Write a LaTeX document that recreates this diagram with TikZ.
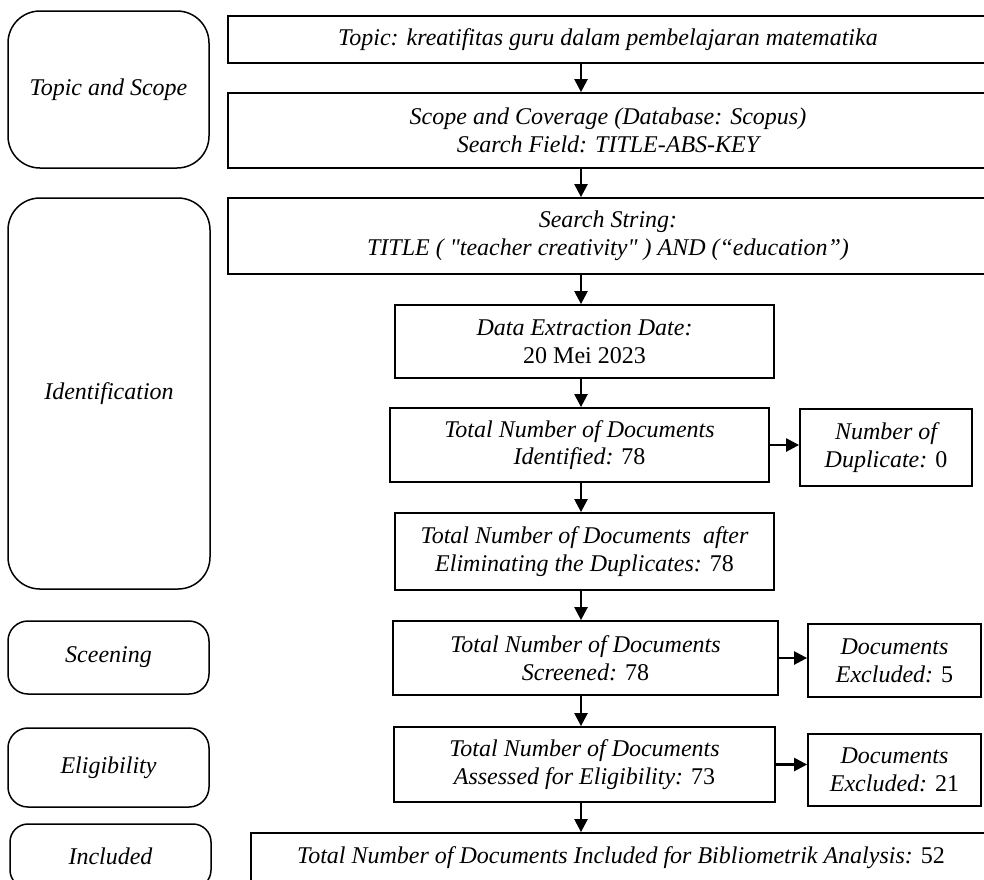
\documentclass[tikz,border=0pt]{standalone}
\usepackage{fontspec}
\setmainfont{Liberation Serif}[Ligatures=TeXOff]
\usetikzlibrary{arrows.meta}
\begin{document}
\begin{tikzpicture}[x=1pt,y=-1pt,
  txt/.style={inner sep=0pt, align=center, font=\fontsize{24}{27.6}\selectfont\itshape},
  box/.style={txt, draw=black, line width=1.8pt},
  side/.style={txt, draw=black, line width=1.5pt},
  arr/.style={-{Triangle[length=13pt,width=13pt]}, line width=2.4pt}
]
\useasboundingbox (0,0) rectangle (984,879);
\clip (0,0) rectangle (984,879);

% left stage boxes
\node[side, rounded corners=32pt, minimum width=201pt, minimum height=157pt] (L1) at (108.5,89.5) {Topic and Scope};
\node[side, rounded corners=32pt, minimum width=202pt, minimum height=391pt] (L2) at (109,393.5) {Identification};
\node[side, rounded corners=20pt, minimum width=201pt, minimum height=73pt] (L3) at (108.5,657.5) {Sceening};
\node[side, rounded corners=20pt, minimum width=201pt, minimum height=79pt] (L4) at (108.5,767.5) {Eligibility};
\node[side, rounded corners=18pt, minimum width=201pt, minimum height=64pt] (L5) at (110.5,856) {Included};

% flow boxes
\node[box, minimum width=760pt, minimum height=47pt] (topic) at (608,39.5) {Topic: kreatifitas guru dalam pembelajaran matematika};
\node[box, minimum width=760pt, minimum height=75pt] (scope) at (608,130.5) {Scope and Coverage (Database: Scopus)\\Search Field: TITLE-ABS-KEY};
\node[box, minimum width=760pt, minimum height=76pt] (search) at (608,236) {Search String:\\TITLE ( "teacher creativity" ) AND (“education”)};
\node[box, minimum width=379pt, minimum height=73pt] (data) at (584.5,341.5) {Data Extraction Date:\\{\upshape 20 Mei 2023}};
\node[box, minimum width=379pt, minimum height=74pt] (ident) at (579.5,445) {Total Number of Documents\\Identified: {\upshape 78}};
\node[box, minimum width=172pt, minimum height=77pt] (dup) at (886,447.5) {Number of\\Duplicate: {\upshape 0}};
\node[box, minimum width=379pt, minimum height=77pt] (elim) at (584.5,551.5) {Total Number of Documents\ \ after\\Eliminating the Duplicates: {\upshape 78}};
\node[box, minimum width=385pt, minimum height=74pt] (screen) at (585.5,658) {Total Number of Documents\\Screened: {\upshape 78}};
\node[box, minimum width=173pt, minimum height=73pt] (excl5) at (894.5,660.5) {Documents\\Excluded: {\upshape 5}};
\node[box, minimum width=381pt, minimum height=75pt] (assess) at (584.5,764.5) {Total Number of Documents\\Assessed for Eligibility: {\upshape 73}};
\node[box, minimum width=173pt, minimum height=72pt] (excl21) at (894.5,770) {Documents\\Excluded: {\upshape 21}};
\node[box, minimum width=740pt, minimum height=49pt] (incl) at (621,857.5) {Total Number of Documents Included for Bibliometrik Analysis: {\upshape 52}};

% connectors
\coordinate (ax) at (581,0);
\draw[arr] (topic.south -| ax) -- (scope.north -| ax);
\draw[arr] (scope.south -| ax) -- (search.north -| ax);
\draw[arr] (search.south -| ax) -- (data.north -| ax);
\draw[arr] (data.south -| ax) -- (ident.north -| ax);
\draw[arr] (ident.south -| ax) -- (elim.north -| ax);
\draw[arr] (elim.south -| ax) -- (screen.north -| ax);
\draw[arr] (screen.south -| ax) -- (assess.north -| ax);
\draw[arr] (assess.south -| ax) -- (incl.north -| ax);
\draw[arr] (ident.east) -- (ident.east -| dup.west);
\draw[arr] (screen.east) -- (screen.east -| excl5.west);
\draw[arr] (assess.east) -- (assess.east -| excl21.west);
\end{tikzpicture}
\end{document}
